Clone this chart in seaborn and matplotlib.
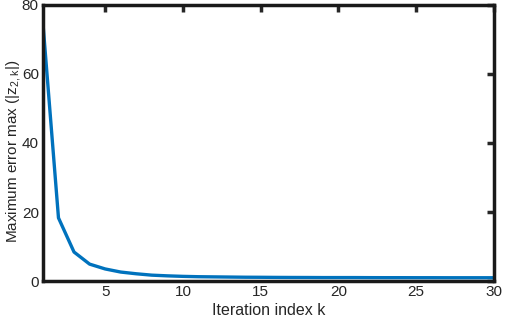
import matplotlib
matplotlib.use("Agg")
import matplotlib.pyplot as plt
import seaborn as sns
import pandas as pd

# iteration index and max error
k = list(range(1, 31))
err = [74.8, 18.3, 8.4, 4.9, 3.5, 2.6, 2.1, 1.7, 1.5, 1.35,
       1.25, 1.2, 1.15, 1.1, 1.08, 1.05, 1.03, 1.02, 1.0, 1.0,
       1.0, 0.98, 0.97, 0.97, 0.96, 0.96, 0.95, 0.95, 0.95, 0.95]
df = pd.DataFrame({"k": k, "err": err})

sns.set_style("white")
plt.rcParams['font.family'] = ['Liberation Sans', 'DejaVu Sans']

fig = plt.figure(figsize=(5.05, 3.31), dpi=100)
ax = fig.add_axes([0.085, 0.151, 0.893, 0.834])
sns.lineplot(data=df, x="k", y="err", ax=ax, color="#0072BD", linewidth=2.4)

ax.set_xlim(1, 30)
ax.set_ylim(0, 80)
ax.set_xticks([5, 10, 15, 20, 25, 30])
ax.set_yticks([0, 20, 40, 60, 80])
ax.tick_params(direction="in", length=5, width=2.5, top=True, right=True,
               labelsize=11, colors="#262626", pad=3)
for s in ax.spines.values():
    s.set_linewidth(2.5)
    s.set_color("#1a1a1a")
ax.set_xlabel("Iteration index k", fontsize=11.5, labelpad=3)
ax.set_ylabel(r"Maximum error max ($\mathregular{|z_{2,k}|}$)", fontsize=11)
ax.yaxis.set_label_coords(-0.044, 0.47)

fig.savefig("out.png", dpi=100)
